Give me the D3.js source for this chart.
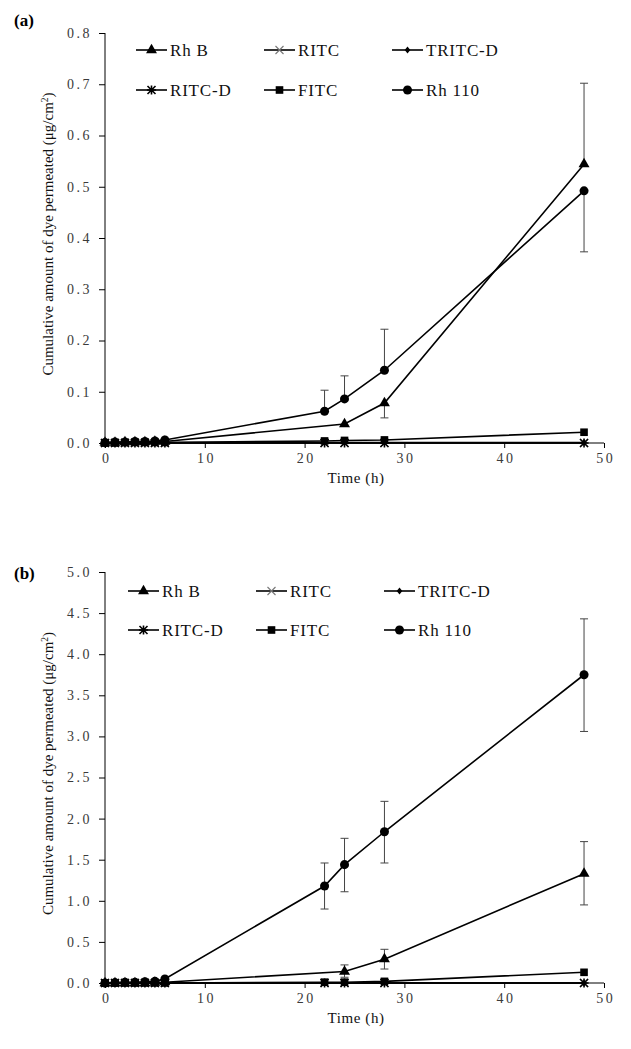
<!DOCTYPE html>
<html><head><meta charset="utf-8">
<script src="https://cdn.jsdelivr.net/npm/d3@7"></script>
<style>body{margin:0;background:#fff}svg{display:block}
svg text{font-family:"Liberation Serif","DejaVu Serif","Times New Roman",Times,serif !important}</style>
</head><body><svg id="c" width="631" height="1049"></svg>
<script>
const times = [0,1,2,3,4,5,6,22,24,28,48];
const seriesNames = ["Rh B","RITC","TRITC-D","RITC-D","FITC","Rh 110"];
const seriesMarkers = ["triangle","x","diamond","asterisk","square","circle"];
const xTicks = [0,10,20,30,40,50];
const yTicksA = [0,0.1,0.2,0.3,0.4,0.5,0.6,0.7,0.8];
const yTicksB = [0,0.5,1.0,1.5,2.0,2.5,3.0,3.5,4.0,4.5,5.0];

// Panel (a)
const rhbA    = [0.001,0.001,0.002,0.002,0.002,0.003,0.003,null,0.037,0.078,0.544];
const ritcA   = [0,0,0,0,0,0,0,0,0,0,0];
const tritcdA = [0,0,0,0,0,0.001,0.001,0.001,0.001,0.001,0.001];
const ritcdA  = [0,0,0,0,0,0,0,0,0,0,0];
const fitcA   = [0,0,0.001,0.001,0.001,0.001,0.001,0.004,0.005,0.006,0.021];
const rh110A  = [0.001,0.002,0.002,0.003,0.003,0.004,0.006,0.062,0.086,0.142,0.492];
const rhbUpA    = [0,0,0,0,0,0,0,0,0,0,0.158];
const rhbDownA  = [0,0,0,0,0,0,0,0,0,0.029,0];
const rh110UpA  = [0,0,0,0,0,0,0,0.041,0.045,0.080,0];
const rh110DownA= [0,0,0,0,0,0,0,0,0,0,0.119];

// Panel (b)
const rhbB    = [0,0,0,0,0,0.005,0.01,null,0.14,0.29,1.33];
const ritcB   = [0,0,0,0,0,0,0,0,0,0,0];
const tritcdB = [0,0,0,0,0,0,0,0,0,0,0];
const ritcdB  = [0,0,0,0,0,0,0,0,0,0,0];
const fitcB   = [0,0,0,0,0,0,0,0.01,0.01,0.02,0.13];
const rh110B  = [0,0.005,0.01,0.01,0.015,0.02,0.05,1.18,1.44,1.84,3.75];
const rhbUpB    = [0,0,0,0,0,0,0,0,0.08,0.12,0.39];
const rhbDownB  = [0,0,0,0,0,0,0,0,0.07,0.12,0.38];
const rh110UpB  = [0,0,0,0,0,0,0,0.28,0.32,0.37,0.68];
const rh110DownB= [0,0,0,0,0,0,0,0.28,0.33,0.38,0.69];

const svg = d3.select("#c");

function markerPath(type){
  switch(type){
    case "triangle": return d3.symbol(d3.symbolTriangle, 52)();
    case "square": return d3.symbol(d3.symbolSquare, 58)();
    case "circle": return d3.symbol(d3.symbolCircle, 64)();
    case "diamond": return "M0,-3.4L2.8,0L0,3.4L-2.8,0Z";
    case "x": return "M-4,-4L4,4M-4,4L4,-4";
    case "asterisk": return "M-4,-4L4,4M-4,4L4,-4M0,-4.6L0,4.6M-4.6,0L4.6,0";
  }
}
function drawMarker(g, type, x, y){
  const p = g.append("path").attr("d", markerPath(type)).attr("transform",`translate(${x},${y})`);
  if(type==="x") p.attr("fill","none").attr("stroke","#777").attr("stroke-width",1.1);
  else if(type==="asterisk") p.attr("fill","none").attr("stroke","#000").attr("stroke-width",1.6);
  else p.attr("fill","#000").attr("stroke","none");
}

function panel(cfg){
  const x = d3.scaleLinear().domain([0,50]).range([105,604]);
  const y = d3.scaleLinear().domain([0,cfg.ymax]).range([cfg.y0,cfg.ytop]);
  const g = svg.append("g");
  const ya = d3.axisLeft(y).tickValues(cfg.yTicks).tickFormat(d3.format(".1f")).tickSize(6).tickPadding(9);
  const gy = g.append("g").attr("transform","translate(105,0)").call(ya);
  const xa = d3.axisBottom(x).tickValues(xTicks).tickFormat(d3.format("d")).tickSize(5).tickPadding(5);
  const gx = g.append("g").attr("transform",`translate(0,${cfg.y0})`).call(xa);
  [gy,gx].forEach(a=>{
    a.select(".domain").attr("stroke","#000").attr("stroke-width",1);
    a.selectAll(".tick line").attr("stroke","#000");
    a.selectAll(".tick text").attr("font-size",14).attr("fill","#3a3a3a").attr("letter-spacing","2.5px");
  });
  gy.selectAll(".tick text").attr("dx","2px");
  gx.selectAll(".tick text").attr("dx","1.2px");
  gy.select(".domain").attr("d",`M0,${cfg.ytop}V${cfg.y0}`);
  gx.select(".domain").attr("d",`M105,0H604`);

  cfg.data.forEach((vals,i)=>{
    const pts = times.map((t,j)=>({t, v: vals[j], j})).filter(d=>d.v!==null);
    const line = d3.line().x(d=>x(d.t)).y(d=>y(d.v));
    g.append("path").datum(pts).attr("d",line).attr("fill","none")
      .attr("stroke","#000").attr("stroke-width", 1.6);
    const eb = cfg.err[i];
    if(eb){
      pts.forEach(d=>{
        [[eb.up[d.j],1],[eb.down[d.j],-1]].forEach(([e,s])=>{
          if(!e) return;
          const yy = y(d.v + s*e);
          g.append("line").attr("x1",x(d.t)).attr("x2",x(d.t)).attr("y1",y(d.v)).attr("y2",yy).attr("stroke","#444").attr("stroke-width",1);
          g.append("line").attr("x1",x(d.t)-4).attr("x2",x(d.t)+4).attr("y1",yy).attr("y2",yy).attr("stroke","#444").attr("stroke-width",1);
        });
      });
    }
    pts.forEach(d=>drawMarker(g, seriesMarkers[i], x(d.t), y(d.v)));
  });

  seriesNames.forEach((n,i)=>{
    const cx = cfg.legCols[i%3], cy = cfg.legRows[Math.floor(i/3)];
    g.append("line").attr("x1",cx).attr("x2",cx+31).attr("y1",cy).attr("y2",cy).attr("stroke","#000").attr("stroke-width",1.6);
    drawMarker(g, seriesMarkers[i], cx+15.5, cy);
    g.append("text").attr("x",cx+34).attr("y",cy+6).attr("font-size",17).attr("letter-spacing","0.8px").attr("fill","#111").text(n);
  });

  g.append("text").attr("x",356).attr("y",cfg.y0+40).attr("text-anchor","middle").attr("font-size",15).attr("letter-spacing","0.6px").attr("fill","#111").text("Time (h)");
  const yt = g.append("text").attr("transform",`translate(53,${(cfg.y0+cfg.ytop)/2-4}) rotate(-90)`)
    .attr("text-anchor","middle").attr("font-size",15).attr("fill","#111");
  yt.append("tspan").text("Cumulative amount of  dye permeated (\u03bcg/cm");
  yt.append("tspan").attr("baseline-shift","super").attr("font-size",9.5).text("2");
  yt.append("tspan").text(")");
  g.append("text").attr("x",14).attr("y",cfg.labelY).attr("font-size",17).attr("font-weight","bold").attr("fill","#000").text(cfg.label);
}

panel({ymax:0.8, y0:443, ytop:33, yTicks:yTicksA,
  data:[rhbA,ritcA,tritcdA,ritcdA,fitcA,rh110A],
  err:[{up:rhbUpA,down:rhbDownA},null,null,null,null,{up:rh110UpA,down:rh110DownA}],
  legCols:[136,264,392], legRows:[50,90], label:"(a)", labelY:26});
panel({ymax:5.0, y0:983, ytop:572, yTicks:yTicksB,
  data:[rhbB,ritcB,tritcdB,ritcdB,fitcB,rh110B],
  err:[{up:rhbUpB,down:rhbDownB},null,null,null,null,{up:rh110UpB,down:rh110DownB}],
  legCols:[128,256,384], legRows:[591,630], label:"(b)", labelY:579});
</script></body></html>
